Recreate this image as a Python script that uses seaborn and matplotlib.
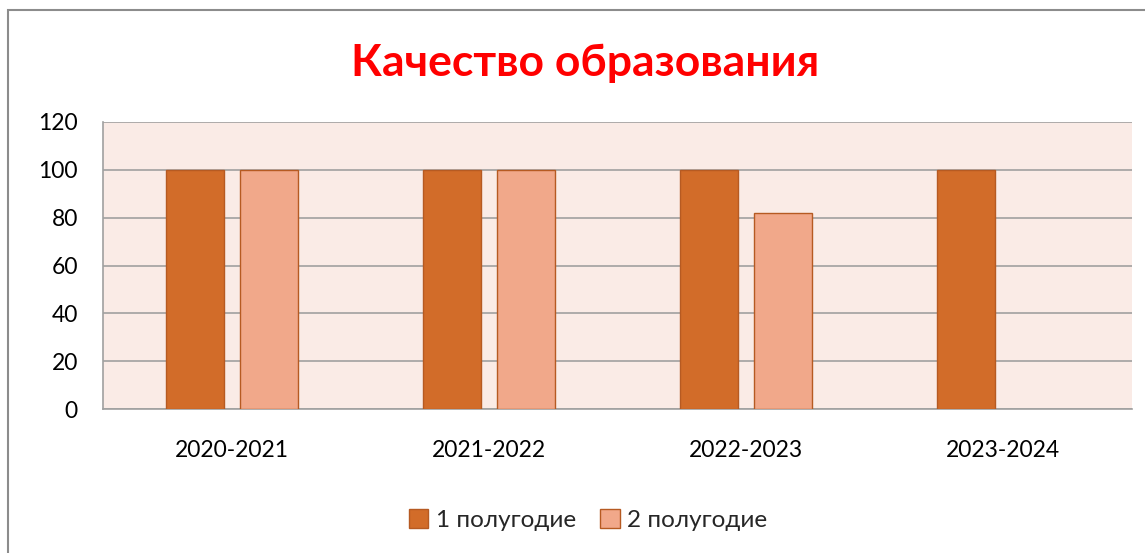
import matplotlib
matplotlib.use("Agg")
import matplotlib.pyplot as plt
import seaborn as sns
import pandas as pd
import numpy as np
from matplotlib.patches import Rectangle

years = ["2020-2021", "2021-2022", "2022-2023", "2023-2024"]
sem1 = [100, 100, 100, 100]
sem2 = [100, 100, 82, np.nan]
series_names = ["1 полугодие", "2 полугодие"]

df = pd.DataFrame({
    "year": years * 2,
    "value": sem1 + sem2,
    "series": [series_names[0]] * 4 + [series_names[1]] * 4,
})

sns.set_style("white")
plt.rcParams["font.family"] = ["Lato", "DejaVu Sans"]

fig = plt.figure(figsize=(11.45, 5.53), dpi=100)
ax = fig.add_axes([103 / 1145, 1 - 409 / 553, 1029 / 1145, 287 / 553])

sns.barplot(
    data=df, x="year", y="value", hue="series",
    palette=["#D26C29", "#F1A88A"], saturation=1,
    width=0.576, gap=0.216,
    edgecolor="#B65A22", linewidth=1.0,
    ax=ax, zorder=3,
)

ax.set_facecolor("#FAEBE6")
ax.set_ylim(0, 120)
ax.set_yticks(range(0, 121, 20))
ax.yaxis.grid(True, color="#A0A0A0", linewidth=1.2, zorder=0)
ax.set_axisbelow(True)
ax.set_xlabel("")
ax.set_ylabel("")
ax.tick_params(axis="both", length=0, labelsize=16.5, colors="black")
ax.tick_params(axis="x", pad=22)
ax.tick_params(axis="y", pad=18)
for s in ["top", "right"]:
    ax.spines[s].set_visible(False)
for s in ["left", "bottom"]:
    ax.spines[s].set_color("#A0A0A0")
    ax.spines[s].set_linewidth(1.2)

fig.text(585 / 1145, 1 - 63 / 553, "Качество образования", color="#FF0000",
         fontsize=32, fontweight="bold", ha="center", va="center")

ax.legend(loc="center", bbox_to_anchor=(588 / 1145, 1 - 520 / 553), bbox_transform=fig.transFigure,
          ncol=2, frameon=False, fontsize=17.5, handlelength=0.8, handleheight=0.8,
          handletextpad=0.3, columnspacing=1.0)

fig.patches.append(Rectangle((8 / 1145, -0.05), 1.1, 1.05 - 10 / 553, transform=fig.transFigure,
                             fill=False, edgecolor="#8C8C8C", linewidth=1.5))

fig.savefig("out.png", dpi=100, facecolor="white")
